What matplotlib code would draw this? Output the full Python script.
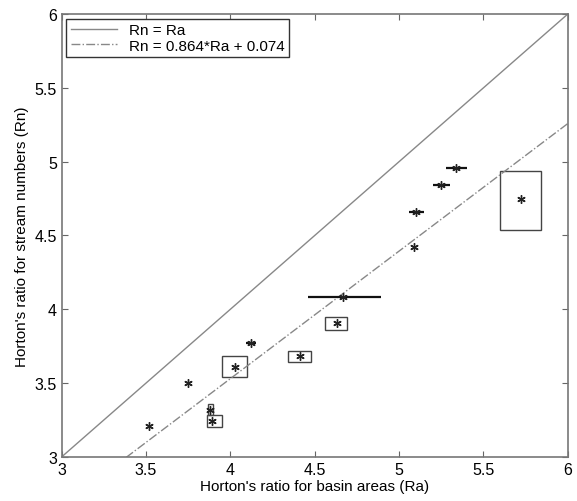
import numpy as np
import matplotlib.pyplot as plt
from matplotlib.patches import Rectangle

plt.rcParams['font.family'] = ['Liberation Sans', 'DejaVu Sans']

# Horton's ratios per basin: centre values and min/max ranges
ra = [3.52, 3.75, 4.03, 3.88, 3.89, 4.12, 4.41, 4.63, 4.67, 5.09, 5.10, 5.25, 5.34, 5.72]
rn = [3.21, 3.50, 3.61, 3.32, 3.24, 3.77, 3.68, 3.91, 4.08, 4.42, 4.66, 4.84, 4.96, 4.75]
ra_lo = [3.52, 3.74, 3.95, 3.865, 3.86, 4.09, 4.34, 4.56, 4.46, 5.09, 5.06, 5.20, 5.28, 5.60]
ra_hi = [3.52, 3.76, 4.10, 3.895, 3.95, 4.15, 4.48, 4.69, 4.89, 5.09, 5.15, 5.30, 5.40, 5.84]
rn_lo = [3.21, 3.50, 3.54, 3.28, 3.20, 3.77, 3.64, 3.86, 4.08, 4.42, 4.66, 4.84, 4.96, 4.54]
rn_hi = [3.21, 3.50, 3.68, 3.36, 3.28, 3.77, 3.72, 3.95, 4.08, 4.42, 4.66, 4.84, 4.96, 4.94]

slope = 0.864
intercept = 0.074

fig = plt.figure(figsize=(5.77, 5.02), dpi=100)
ax = fig.add_axes([0.107, 0.088, 0.877, 0.882])

xx = np.array([3, 6])
ax.plot(xx, xx, color='#888888', lw=1, label='Rn = Ra')
ax.plot(xx, slope * xx + intercept, color='#888888', lw=1, ls='-.',
        label='Rn = %.3f*Ra + %.3f' % (slope, intercept))

for i in range(len(ra)):
    w = ra_hi[i] - ra_lo[i]
    h = rn_hi[i] - rn_lo[i]
    if w > 0 and h > 0:
        ax.add_patch(Rectangle((ra_lo[i], rn_lo[i]), w, h, fill=False,
                               edgecolor='#444444', lw=1))
    elif w > 0:
        ax.hlines(rn[i], ra_lo[i], ra_hi[i], color='#111111', lw=1.6)

ax.plot(ra, rn, ls='none', marker=(6, 2, 0), ms=6, mec='#222222', mew=1.0)

ax.set_xlim(3, 6)
ax.set_ylim(3, 6)
ax.set_xticks([3, 3.5, 4, 4.5, 5, 5.5, 6])
ax.set_yticks([3, 3.5, 4, 4.5, 5, 5.5, 6])
ax.set_xticklabels(['3', '3.5', '4', '4.5', '5', '5.5', '6'])
ax.set_yticklabels(['3', '3.5', '4', '4.5', '5', '5.5', '6'])
ax.tick_params(direction='in', top=True, right=True, labelsize=11.5, length=4,
               color='#666666')
for s in ax.spines.values():
    s.set_color('#777777')
    s.set_linewidth(1.2)

ax.set_xlabel("Horton's ratio for basin areas (Ra)", fontsize=11, labelpad=2)
ax.set_ylabel("Horton's ratio for stream numbers (Rn)", fontsize=11, labelpad=4)

leg = ax.legend(loc='upper left', fontsize=11, fancybox=False, framealpha=1,
                edgecolor='#333333', borderaxespad=0.3, handlelength=3,
                labelspacing=0.1, borderpad=0.3)
leg.get_frame().set_linewidth(1)

fig.savefig('out.png', dpi=100)
